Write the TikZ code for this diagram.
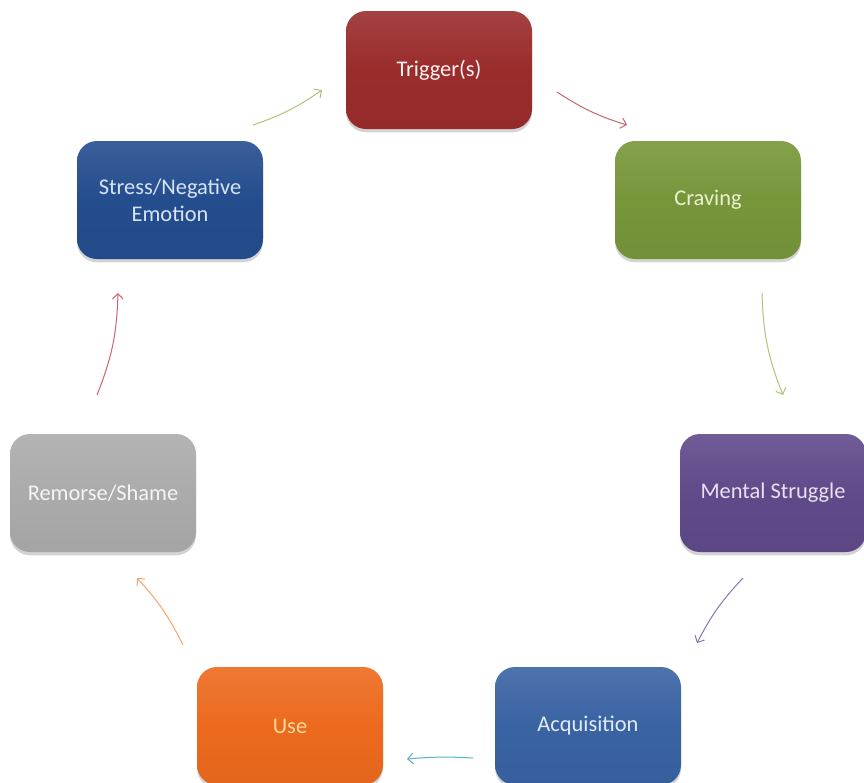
\documentclass[tikz,border=0pt]{standalone}
\usepackage{fontspec}
\setmainfont{Carlito}
\usetikzlibrary{arrows.meta,shadows}

\definecolor{triggerRed}{RGB}{154,44,44}
\definecolor{cravingGreen}{RGB}{119,150,58}
\definecolor{struggleViolet}{RGB}{96,74,138}
\definecolor{acquireBlue}{RGB}{58,99,163}
\definecolor{useOrange}{RGB}{236,106,30}
\definecolor{remorseGrey}{RGB}{171,171,171}
\definecolor{stressBlue}{RGB}{36,77,142}

\definecolor{arrOlive}{RGB}{170,196,120}
\definecolor{arrRose}{RGB}{200,100,110}
\definecolor{arrViolet}{RGB}{140,115,175}
\definecolor{arrTeal}{RGB}{90,175,195}
\definecolor{arrOrange}{RGB}{245,165,110}

\tikzset{
  stagebox/.style={rectangle, rounded corners=15pt, minimum width=139.5pt, minimum height=88.5pt,
    inner sep=0.75pt, align=center, font=\fontsize{16.8}{20}\selectfont,
    top color=#1!90!white, bottom color=#1!96!black, middle color=#1,
    drop shadow={opacity=0.35, shadow xshift=0pt, shadow yshift=-2.5pt}},
  cycarrow/.style={draw=#1, line width=0.75pt, -{Straight Barb[length=4pt,width=8pt]}}
}

\begin{document}
\begin{tikzpicture}[x=0.75pt,y=0.75pt,yscale=-1,xscale=1]
\useasboundingbox (0,0) rectangle (864,782);
\clip (0,0) rectangle (864,782);

% Rounded Rect
\node [stagebox=triggerRed, text=white!95!red] (trigger) at (439,70) {Trigger(s)};
% Rounded Rect
\node [stagebox=cravingGreen, text={rgb,255:red,232;green,242;blue,208}] (craving) at (708,200) {Craving};
% Rounded Rect
\node [stagebox=struggleViolet, text={rgb,255:red,232;green,226;blue,240}] (struggle) at (773,493) {Mental Struggle};
% Rounded Rect
\node [stagebox=acquireBlue, text={rgb,255:red,226;green,234;blue,246}] (acquisition) at (588,726) {Acquisition};
% Rounded Rect
\node [stagebox=useOrange, text={rgb,255:red,255;green,220;blue,150}] (use) at (290,726) {Use};
% Rounded Rect
\node [stagebox=remorseGrey, text=white!96!black] (remorse) at (103,493) {Remorse/Shame};
% Rounded Rect
\node [stagebox=stressBlue, text={rgb,255:red,214;green,228;blue,246}] (stress) at (170,200) {Stress/Negative\\Emotion};

%Curve Lines
\coordinate (stressOut) at (253,125);
\coordinate (triggerIn) at (322,90);
\draw [cycarrow=arrOlive] (stressOut) to [bend left=8] (triggerIn);
%Curve Lines
\coordinate (triggerOut) at (557,92);
\coordinate (cravingIn) at (627,125);
\draw [cycarrow=arrRose] (triggerOut) to [bend left=8] (cravingIn);
%Curve Lines
\coordinate (cravingOut) at (762,293);
\coordinate (struggleIn) at (783,395);
\draw [cycarrow=arrOlive] (cravingOut) to [bend left=10] (struggleIn);
%Curve Lines
\coordinate (struggleOut) at (743,578);
\coordinate (acquisitionIn) at (697,643);
\draw [cycarrow=arrViolet] (struggleOut) to [bend left=8] (acquisitionIn);
%Curve Lines
\coordinate (acquisitionOut) at (473,758);
\coordinate (useIn) at (407,759);
\draw [cycarrow=arrTeal] (acquisitionOut) to [bend left=4] (useIn);
%Curve Lines
\coordinate (useOut) at (183,645);
\coordinate (remorseIn) at (137,578);
\draw [cycarrow=arrOrange] (useOut) to [bend left=8] (remorseIn);
%Curve Lines
\coordinate (remorseOut) at (97,395);
\coordinate (stressIn) at (118,293);
\draw [cycarrow=arrRose] (remorseOut) to [bend left=10] (stressIn);

\end{tikzpicture}
\end{document}
